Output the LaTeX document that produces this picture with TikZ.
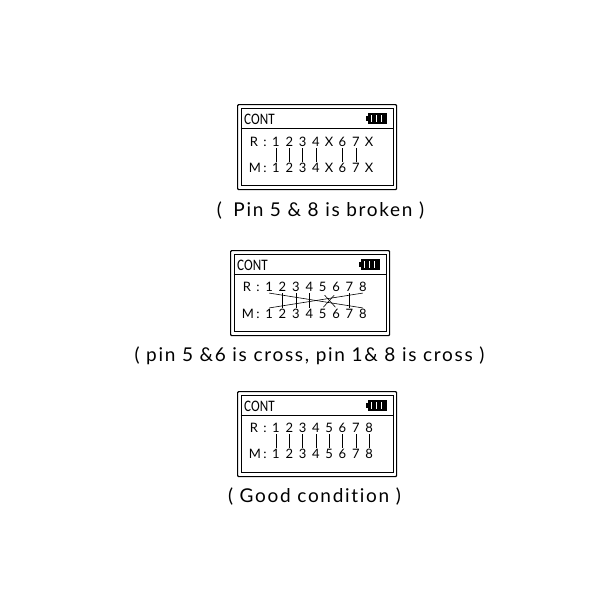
\documentclass[tikz,border=0pt]{standalone}
\usepackage{fontspec}
\setmainfont{Lato}
\newfontfamily\lcdfont[FakeStretch=0.82]{Carlito}
\newfontfamily\capfont[LetterSpace=9,Ligatures=NoCommon]{Lato}
\usetikzlibrary{positioning}

\tikzset{
    x=1pt, y=-1pt,
    frame/.style={draw, line width=1.2pt, rounded corners=1pt, minimum width=159pt, minimum height=85pt, anchor=north west, inner sep=0pt},
    inframe/.style={draw, line width=0.8pt, minimum width=152pt, minimum height=77pt, anchor=north west, inner sep=0pt},
    title/.style={font=\lcdfont\fontsize{16}{18}\selectfont, anchor=west, inner sep=0pt},
    digit/.style={font=\fontsize{13}{15}\selectfont, text height=9.3pt, text depth=0pt, inner sep=1.2pt},
    batt/.style={draw, line width=0.8pt, fill=black, minimum width=18pt, minimum height=10pt, inner sep=0pt},
    caption/.style={font=\capfont\fontsize{19}{23}\selectfont, inner sep=0pt},
    wire/.style={line width=0.6pt}
}

\newcommand{\lcdscreen}[3]{%
    \node[frame] (#1f) at (#2,#3) {};
    \node[inframe] (#1i) at (#2+3.5,#3+4) {};
    \coordinate (#1l) at (#2+3.5,#3+24);
    \coordinate (#1r) at (#2+155.5,#3+24);
    \draw[line width=0.8pt] (#1l) -- (#1r);
    \node[title] (#1t) at (#2+7,#3+15) {CONT};
    \node[batt] (#1b) at (#2+140.5,#3+14.5) {};
    \fill (#2+128.7,#3+12) rectangle (#2+131.5,#3+17);
    \foreach \k in {0,1,2} {
        \fill[white] (#2+134.2+\k*5,#3+11) rectangle (#2+135.3+\k*5,#3+18);
    }
}

\begin{document}
\begin{tikzpicture}
    \useasboundingbox (0,0) rectangle (600,600);

    % broken pins
    \lcdscreen{a}{237}{104}
    \node[digit] (aR) at (254,142) {R};
    \node[digit] (aRc) at (265,142) {:};
    \node[digit] (aM) at (255,168) {M};
    \node[digit] (aMc) at (265,168) {:};
    \foreach \i/\t in {1/1,2/2,3/3,4/4,5/X,6/6,7/7,8/X} {
        \node[digit] (ar\i) at (262.7+13.3*\i,142) {\t};
        \node[digit] (am\i) at (262.7+13.3*\i,168) {\t};
    }
    \foreach \i in {1,2,3,4,6,7} {
        \draw[wire] (ar\i) -- (am\i);
    }
    \node[caption] (acap) at (320.5,211) {(\hspace{5pt} Pin 5 \& 8 is broken )};

    % crossed pins
    \lcdscreen{b}{230}{250}
    \node[digit] (bR) at (247,287) {R};
    \node[digit] (bRc) at (258,287) {:};
    \node[digit] (bM) at (248,314) {M};
    \node[digit] (bMc) at (258,314) {:};
    \foreach \i in {1,...,8} {
        \node[digit] (br\i) at (255.7+13.4*\i,287) {\i};
        \node[digit] (bm\i) at (255.7+13.4*\i,314) {\i};
    }
    \foreach \i in {2,3,4,7} {
        \draw[wire] (br\i) -- (bm\i);
    }
    \draw[wire] (br1.south) -- (bm8.north);
    \draw[wire] (br8.south) -- (bm1.north);
    \draw[wire, shorten >=1pt, shorten <=3pt] (br5.south) -- (bm6.north);
    \draw[wire, shorten >=1pt, shorten <=3pt] (br6.south) -- (bm5.north);
    \node[caption] (bcap) at (309.5,356) {( pin 5 \&6 is cross, pin 1\& 8 is cross )};

    % all pins fine
    \lcdscreen{c}{237}{391}
    \node[digit] (cR) at (254,428) {R};
    \node[digit] (cRc) at (265,428) {:};
    \node[digit] (cM) at (255,454) {M};
    \node[digit] (cMc) at (265,454) {:};
    \foreach \i in {1,...,8} {
        \node[digit] (cr\i) at (262.7+13.3*\i,428) {\i};
        \node[digit] (cm\i) at (262.7+13.3*\i,454) {\i};
        \draw[wire] (cr\i) -- (cm\i);
    }
    \node[caption] (ccap) at (314.5,497) {( Good condition )};
\end{tikzpicture}
\end{document}
